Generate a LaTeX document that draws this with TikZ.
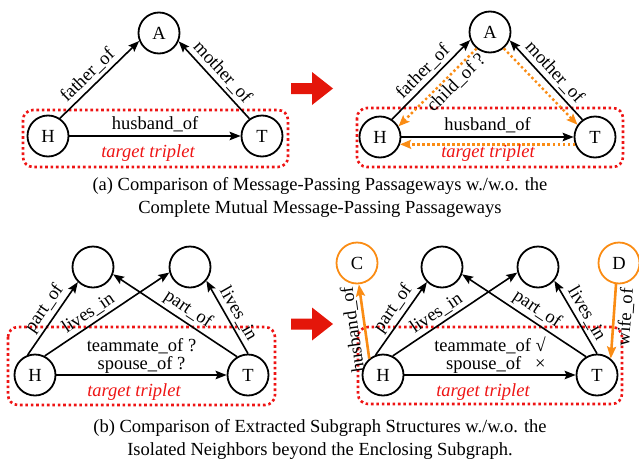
\documentclass[tikz,border=0pt]{standalone}
\usepackage{fontspec}
\setmainfont{Liberation Serif}
\usepackage{tikz}
\usetikzlibrary{arrows.meta}
\definecolor{boxred}{RGB}{238,20,20}
\definecolor{arrred}{RGB}{228,22,10}
\definecolor{orgc}{RGB}{250,140,20}
\newcommand{\fs}{\fontsize{18.5}{22}\selectfont}
\tikzset{
  ent/.style={circle, draw, line width=1.8pt, minimum size=41pt, inner sep=0pt, font=\fs},
  orgent/.style={ent, draw=orgc},
  rel/.style={-{Stealth[length=11pt,width=8.5pt,inset=2pt]}, line width=1.6pt},
  orgrel/.style={-{Stealth[length=12pt,width=9pt,inset=2pt]}, draw=orgc, line width=2.6pt},
  orgdot/.style={-{Stealth[length=11pt,width=9pt,inset=2pt]}, draw=orgc, line width=2.4pt,
    dash pattern=on 2.4pt off 2.6pt},
  lbl/.style={font=\fs, inner sep=3pt},
  tripbox/.style={draw=boxred, line width=2.6pt, dash pattern=on 2.6pt off 2.8pt, rounded corners=10pt},
  triptxt/.style={font=\fs\itshape, text=boxred},
  twoline/.style={lbl, above, inner sep=1pt, font=\fontsize{18.5}{18}\selectfont},
  capt/.style={font=\fontsize{18.5}{23}\selectfont, align=center}
}
\begin{document}
\begin{tikzpicture}[x=1pt,y=-1pt]
\useasboundingbox (0,0) rectangle (639,466);

\foreach \yy in {88.5,324}
  \fill[arrred] (291,\yy-5.5) -- (312,\yy-5.5) -- (312,\yy-16.5) -- (333,\yy)
    -- (312,\yy+16.5) -- (312,\yy+5.5) -- (291,\yy+5.5) -- cycle;

\draw[tripbox] (23,110) rectangle (288,167);
\node[ent] (A1) at (159,33) {A};
\node[ent] (H1) at (48,136) {H};
\node[ent] (T1) at (262,136) {T};
\draw[rel] (H1.56) -- node[lbl, sloped, above, pos=0.45] {father\_of} (A1.-158);
\draw[rel] (T1.126) -- node[lbl, sloped, above, pos=0.5] {mother\_of} (A1.-23);
\draw[rel] (H1) -- node[lbl, above] {husband\_of} (T1);
\node[triptxt] (tt1) at (148,153) {target triplet};

\draw[tripbox] (357,108) rectangle (623,167);
\node[ent] (A2) at (490,32) {A};
\node[ent] (H2) at (380,137) {H};
\node[ent] (T2) at (595,137) {T};
\draw[rel] (H2.56) -- node[lbl, sloped, above, pos=0.5] {father\_of} (A2.-158);
\draw[rel] (T2.126) -- node[lbl, sloped, above, pos=0.5] {mother\_of} (A2.-23);
\draw[rel] (H2) -- node[lbl, above] {husband\_of} (T2);
\draw[orgdot] (A2.-129) -- node[lbl, sloped, below, pos=0.35, inner sep=1pt] {child\_of ?} (H2.30);
\draw[orgdot] (A2.-50) -- (T2.145);
\draw[orgdot] (T2.-160) -- (H2.-20);
\node[triptxt] (tt2) at (488,153) {target triplet};

\node[capt] (capa) at (320,197) {(a) Comparison of Message-Passing Passageways w./w.o. the\\Complete Mutual Message-Passing Passageways};

\draw[tripbox] (8,327) rectangle (275,405);
\node[ent] (N1) at (93,267) {};
\node[ent] (N2) at (190,267) {};
\node[ent] (H3) at (35,375) {H};
\node[ent] (T3) at (248,375) {T};
\draw[rel] (H3.110) -- node[lbl, sloped, above, pos=0.54] {part\_of} (N1.-135);
\draw[rel] (H3.63) -- node[lbl, sloped, above, pos=0.4] {lives\_in} (N2.-165);
\draw[rel] (T3.121) -- node[lbl, sloped, above, pos=0.45] {part\_of} (N1.-20);
\draw[rel] (T3.90) -- node[lbl, sloped, above, pos=0.47] {lives\_in} (N2.-40);
\draw[rel] (H3) -- node[twoline, align=center] {teammate\_of ?\\spouse\_of ?} (T3);
\node[triptxt] (tt3) at (134,392) {target triplet};

\draw[tripbox] (358,327) rectangle (622,404);
\node[orgent] (C) at (357,263) {C};
\node[ent] (N3) at (442,267) {};
\node[ent] (N4) at (538,267) {};
\node[orgent] (D) at (619,263) {D};
\node[ent] (H4) at (383,375) {H};
\node[ent] (T4) at (597,375) {T};
\draw[rel] (H4.110) -- node[lbl, sloped, above, pos=0.54] {part\_of} (N3.-135);
\draw[rel] (H4.63) -- node[lbl, sloped, above, pos=0.4] {lives\_in} (N4.-165);
\draw[rel] (T4.121) -- node[lbl, sloped, above, pos=0.45] {part\_of} (N3.-20);
\draw[rel] (T4.90) -- node[lbl, sloped, above, pos=0.47] {lives\_in} (N4.-40);
\draw[rel] (H4) -- node[twoline, align=right] {teammate\_of √\\spouse\_of\hspace{14pt}×} (T4);
\draw[orgrel] (H4.130) -- node[lbl, sloped, above, allow upside down, pos=0.41] {husband\_of} (C.-85);
\draw[orgrel] (D.-98) -- node[lbl, sloped, below, pos=0.43] {wife\_of} (T4.50);
\node[triptxt] (tt4) at (483,392) {target triplet};

\node[capt] (capb) at (320,439) {(b) Comparison of Extracted Subgraph Structures w./w.o. the\\Isolated Neighbors beyond the Enclosing Subgraph.};
\end{tikzpicture}
\end{document}
